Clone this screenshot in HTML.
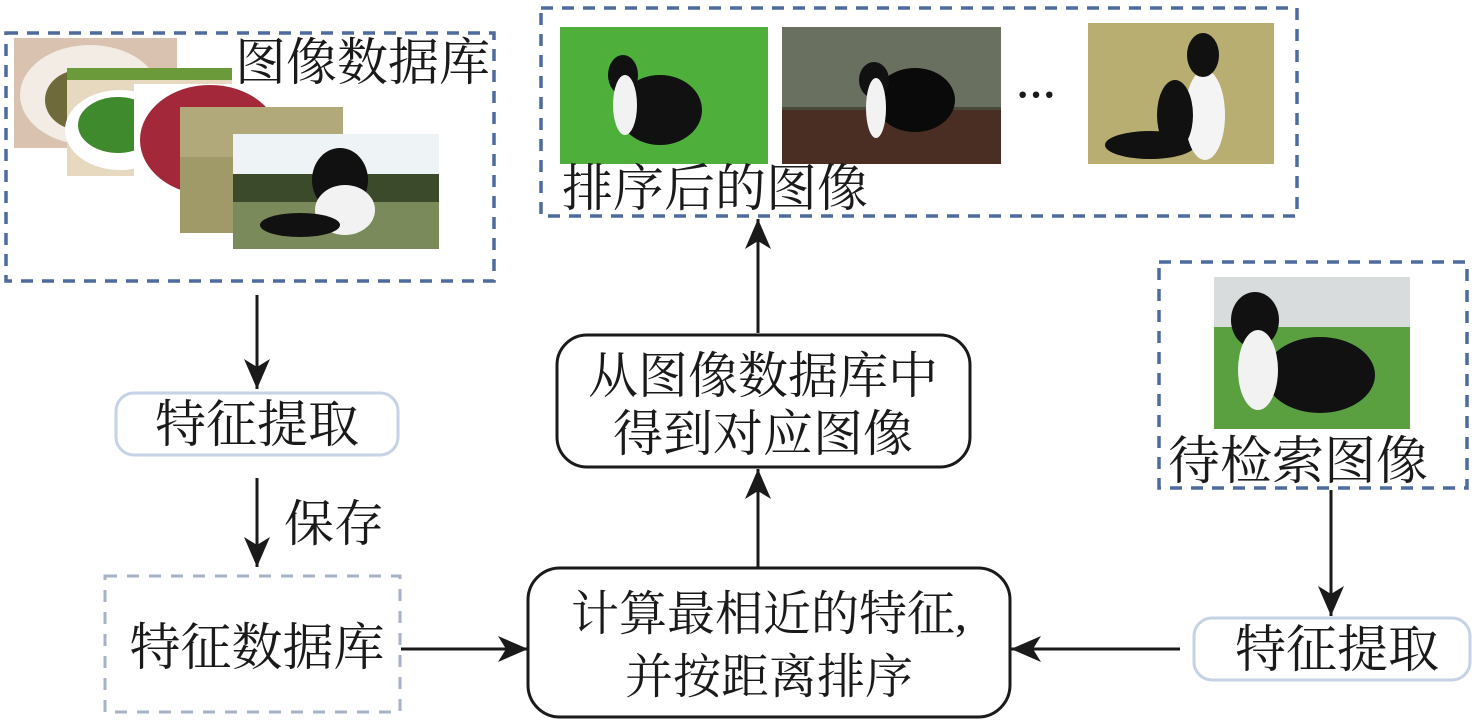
<!DOCTYPE html>
<html><head><meta charset="utf-8"><style>
html,body{margin:0;padding:0;background:#fff;}
svg{display:block;}
text{font-family:"Liberation Serif","Noto Serif CJK SC",serif;fill:#1a1a1a;}
</style></head><body>
<svg width="1476" height="721" viewBox="0 0 1476 721" xmlns="http://www.w3.org/2000/svg">
<defs>
<marker id="ah" markerWidth="30" markerHeight="26" refX="30" refY="13" orient="auto" markerUnits="userSpaceOnUse" viewBox="0 0 30 26">
<path d="M0,0 L30,13 L0,26 L8,13 z" fill="#1a1a1a"/>
</marker>
</defs>
<!-- image database box -->
<rect x="6" y="33" width="488" height="248" fill="none" stroke="#4e6a9e" stroke-width="3.5" stroke-dasharray="12,9"/>
<rect x="14" y="38" width="163" height="110" fill="#d9c3b0"/>
<ellipse cx="90" cy="95" rx="70" ry="50" fill="#f2ece4"/>
<ellipse cx="80" cy="100" rx="35" ry="30" fill="#6e6a3a"/>
<rect x="67" y="68" width="180" height="108" fill="#e6d9c0"/>
<ellipse cx="120" cy="130" rx="55" ry="40" fill="#fff"/>
<ellipse cx="118" cy="125" rx="40" ry="28" fill="#3f8a2c"/>
<rect x="67" y="68" width="180" height="12" fill="#6a9a3a"/>
<rect x="134" y="84" width="210" height="130" fill="#fff"/>
<ellipse cx="210" cy="140" rx="70" ry="55" fill="#a3283a"/>
<rect x="180" y="107" width="163" height="126" fill="#a09a68"/>
<rect x="180" y="107" width="163" height="50" fill="#b2a97a"/>
<rect x="233" y="134" width="206" height="115" fill="#7a8a5a"/>
<rect x="233" y="134" width="206" height="40" fill="#eef3f5"/>
<rect x="233" y="174" width="206" height="28" fill="#3a4a2a"/>
<ellipse cx="340" cy="180" rx="28" ry="32" fill="#111"/>
<ellipse cx="345" cy="210" rx="30" ry="25" fill="#f2f2f2"/>
<ellipse cx="300" cy="225" rx="40" ry="12" fill="#111"/>
<rect x="232" y="36" width="260" height="50" fill="#fff"/>
<text x="235" y="80" font-size="51">图像数据库</text>

<!-- left column -->
<line x1="257" y1="295" x2="257" y2="389" stroke="#1a1a1a" stroke-width="3" marker-end="url(#ah)"/>
<rect x="116" y="393" width="282" height="62" rx="18" fill="#fff" stroke="#c6d2e6" stroke-width="3"/>
<text x="257" y="442" font-size="51" text-anchor="middle">特征提取</text>
<line x1="257" y1="478" x2="257" y2="567" stroke="#1a1a1a" stroke-width="3" marker-end="url(#ah)"/>
<text x="284" y="541" font-size="50">保存</text>
<rect x="105" y="576" width="295" height="136" fill="none" stroke="#a6b2c8" stroke-width="3" stroke-dasharray="12,10"/>
<text x="257" y="665" font-size="51" text-anchor="middle">特征数据库</text>
<line x1="401" y1="649" x2="528" y2="649" stroke="#1a1a1a" stroke-width="3" marker-end="url(#ah)"/>

<!-- center -->
<rect x="528" y="568" width="482" height="149" rx="32" fill="#fff" stroke="#1a1a1a" stroke-width="3"/>
<text x="769" y="630" font-size="48" text-anchor="middle">计算最相近的特征,</text>
<text x="769" y="693" font-size="48" text-anchor="middle">并按距离排序</text>
<line x1="758" y1="567" x2="758" y2="469" stroke="#1a1a1a" stroke-width="3" marker-end="url(#ah)"/>
<rect x="557" y="335" width="413" height="132" rx="30" fill="#fff" stroke="#1a1a1a" stroke-width="3"/>
<text x="763" y="393" font-size="50" text-anchor="middle">从图像数据库中</text>
<text x="763" y="451" font-size="50" text-anchor="middle">得到对应图像</text>
<line x1="758" y1="333" x2="758" y2="219" stroke="#1a1a1a" stroke-width="3" marker-end="url(#ah)"/>

<!-- top box -->
<rect x="541" y="8" width="756" height="208" fill="none" stroke="#4e6a9e" stroke-width="3.5" stroke-dasharray="12,9"/>
<rect x="560" y="27" width="208" height="137" fill="#4eb03a"/>
<ellipse cx="660" cy="110" rx="42" ry="35" fill="#111"/>
<ellipse cx="623" cy="75" rx="15" ry="20" fill="#111"/>
<ellipse cx="625" cy="105" rx="12" ry="30" fill="#f2f2f2"/>
<rect x="782" y="27" width="219" height="137" fill="#4a4a3a"/>
<rect x="782" y="27" width="219" height="80" fill="#6a7060"/>
<rect x="782" y="110" width="219" height="54" fill="#4a2e24"/>
<ellipse cx="915" cy="100" rx="40" ry="32" fill="#0a0a0a"/>
<ellipse cx="874" cy="80" rx="15" ry="18" fill="#111"/>
<ellipse cx="876" cy="108" rx="10" ry="30" fill="#f2f2f2"/>
<text x="1016" y="108" font-size="40" font-weight="bold">···</text>
<rect x="1088" y="23" width="186" height="141" fill="#b8ae72"/>
<ellipse cx="1150" cy="145" rx="45" ry="14" fill="#111"/>
<ellipse cx="1205" cy="115" rx="20" ry="45" fill="#f4f4f4"/>
<ellipse cx="1175" cy="115" rx="18" ry="35" fill="#111"/>
<ellipse cx="1203" cy="55" rx="16" ry="22" fill="#111"/>
<rect x="560" y="164" width="310" height="48" fill="#fff"/>
<text x="562" y="206" font-size="51">排序后的图像</text>

<!-- right box -->
<rect x="1159" y="262" width="308" height="226" fill="none" stroke="#4e6a9e" stroke-width="3.5" stroke-dasharray="12,9"/>
<rect x="1214" y="277" width="196" height="152" fill="#5aa040"/>
<rect x="1214" y="277" width="196" height="50" fill="#d8dcdc"/>
<ellipse cx="1320" cy="375" rx="55" ry="38" fill="#111"/>
<ellipse cx="1255" cy="320" rx="24" ry="28" fill="#111"/>
<ellipse cx="1258" cy="370" rx="20" ry="40" fill="#f2f2f2"/>
<text x="1168" y="479" font-size="52">待检索图像</text>
<line x1="1331" y1="490" x2="1331" y2="616" stroke="#1a1a1a" stroke-width="3" marker-end="url(#ah)"/>
<rect x="1194" y="618" width="276" height="62" rx="18" fill="#fff" stroke="#c6d2e6" stroke-width="3"/>
<text x="1337" y="667" font-size="51" text-anchor="middle">特征提取</text>
<line x1="1180" y1="649" x2="1011" y2="649" stroke="#1a1a1a" stroke-width="3" marker-end="url(#ah)"/>
</svg>
</body></html>
